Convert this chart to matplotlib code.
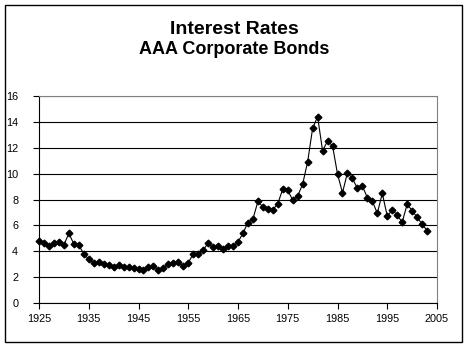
import matplotlib
matplotlib.use("Agg")
import matplotlib.pyplot as plt
from matplotlib.patches import Rectangle

plt.rcParams['font.family'] = ['Liberation Sans', 'DejaVu Sans']

years = list(range(1925, 2004))
rates = [4.82, 4.66, 4.43, 4.66, 4.71, 4.48, 5.39, 4.56, 4.48, 3.79,
         3.40, 3.11, 3.14, 3.04, 2.92, 2.81, 2.94, 2.81, 2.76, 2.73,
         2.63, 2.55, 2.81, 2.86, 2.55, 2.73, 3.01, 3.07, 3.14, 2.88,
         3.11, 3.79, 3.76, 4.10, 4.62, 4.29, 4.38, 4.20, 4.39, 4.40,
         4.71, 5.40, 6.21, 6.49, 7.85, 7.44, 7.28, 7.20, 7.68, 8.81,
         8.70, 7.96, 8.27, 9.20, 10.92, 13.50, 14.40, 11.77, 12.52, 12.16,
         9.97, 8.52, 10.07, 9.63, 8.86, 9.04, 8.14, 7.88, 6.93, 8.47,
         6.72, 7.19, 6.80, 6.24, 7.63, 7.14, 6.62, 6.11, 5.59]

x_ticks = list(range(1925, 2006, 10))
y_ticks = list(range(0, 17, 2))

W, H = 468, 348
fig = plt.figure(figsize=(W / 100, H / 100), dpi=100)
fig.patch.set_facecolor('white')

# outer chart border
fig.patches.append(Rectangle((5 / W, 1 - 342 / H), 457 / W, 337 / H,
                             transform=fig.transFigure, fill=False,
                             edgecolor='black', linewidth=1.0))

ax = fig.add_axes([39 / W, 1 - 303 / H, (437 - 39) / W, (303 - 96) / H])
ax.plot(years, rates, color='black', linewidth=0.8, marker='D',
        markersize=3.4, markerfacecolor='black', markeredgecolor='black',
        clip_on=False, zorder=3)

ax.set_xlim(1925, 2005)
ax.set_ylim(0, 16)
ax.set_xticks(x_ticks)
ax.set_yticks(y_ticks)
ax.set_xticklabels([str(t) for t in x_ticks])
ax.set_yticklabels([str(t) for t in y_ticks])
ax.tick_params(axis='both', direction='out', length=4, width=0.8,
               labelsize=7.8, colors='black')
ax.tick_params(axis='x', pad=4)
ax.tick_params(axis='y', pad=11)
ax.grid(axis='y', color='black', linewidth=0.8)
ax.set_axisbelow(True)
for s in ['top', 'right']:
    ax.spines[s].set_color('#808080')
    ax.spines[s].set_linewidth(0.8)
for s in ['left', 'bottom']:
    ax.spines[s].set_color('black')
    ax.spines[s].set_linewidth(0.8)

fig.text(234 / W, 1 - 29 / H, 'Interest Rates', ha='center', va='center',
         fontsize=14, fontweight='bold')
fig.text(234 / W, 1 - 50 / H, 'AAA Corporate Bonds', ha='center',
         va='center', fontsize=13, fontweight='bold')

fig.savefig('out.png', dpi=100, facecolor='white')
